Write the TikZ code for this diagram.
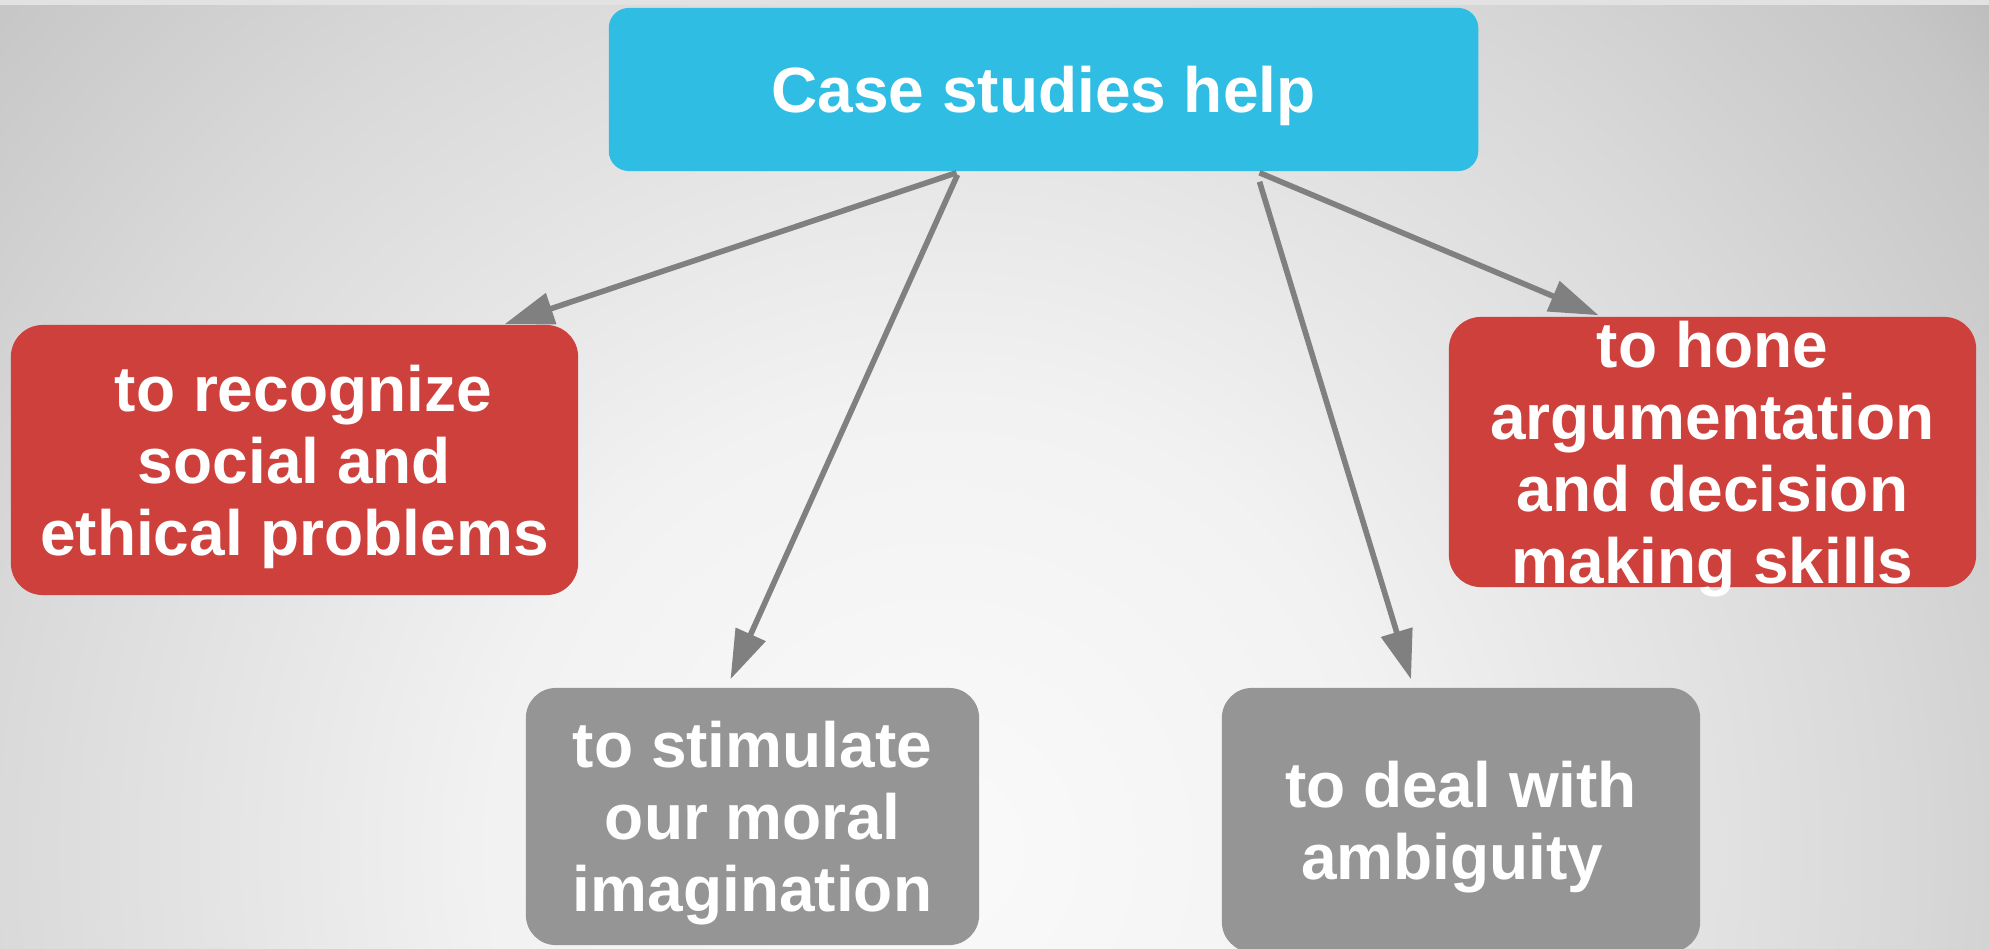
\documentclass[tikz,border=0pt]{standalone}
\usepackage{fontspec}
\setmainfont{Liberation Sans}
\usepackage{tikz}
\usetikzlibrary{arrows.meta, calc}
\definecolor{boxblue}{RGB}{47,189,227}
\definecolor{boxred}{RGB}{205,64,59}
\definecolor{boxgray}{RGB}{149,149,149}
\definecolor{arrowgray}{RGB}{128,128,128}
\definecolor{bgzero}{RGB}{250,250,250}
\definecolor{bgone}{RGB}{242,242,242}
\definecolor{bgtwo}{RGB}{217,217,217}
\definecolor{bgthree}{RGB}{198,198,198}
\definecolor{bgfour}{RGB}{184,184,184}
\definecolor{bgtop}{RGB}{226,226,226}
\pgfdeclareradialshading{backdrop}{\pgfpointorigin}{color(0bp)=(bgzero); color(8bp)=(bgone); color(17bp)=(bgtwo); color(22.7bp)=(bgthree); color(25bp)=(bgfour); color(50bp)=(bgfour)}
\tikzstyle{general} = [rectangle, rounded corners=0.32cm, inner sep=0pt, text depth=0pt, text=white, font=\bfseries\fontsize{18.2}{20.5}\selectfont, align=center]
\tikzstyle{main} = [general, rounded corners=0.2cm, fill=boxblue, minimum width=8.69cm, minimum height=1.63cm]
\tikzstyle{result} = [general, fill=boxred, minimum height=2.7cm]
\tikzstyle{other} = [general, rounded corners=0.3cm, fill=boxgray]
\tikzstyle{arrow} = [line width=1.6pt, color=arrowgray, -{Triangle[length=14pt,width=9pt]}]

\begin{document}
\begin{tikzpicture}[x=0.01cm, y=-0.01cm]
			% background
			\begin{scope}
				\clip (0,0) rectangle (1989,948);
				\shade[shading=backdrop] (940,850) circle (1400);
				\fill[bgtop] (0,0) rectangle (1989,5);
			\end{scope}
			\useasboundingbox (0,0) rectangle (1989,948);
			\node (help) [main] at (1043.5,89.5) {Case studies help};
			\node (recognize) [result, minimum width=5.67cm] at (294.5,460) {\hphantom{\ }to recognize\\social and\\ethical problems};
			\node (hone) [result, minimum width=5.27cm] at (1712.5,452) {to hone\\argumentation\\and decision\\making skills};
			\node (stimulate) [other, minimum width=4.53cm, minimum height=2.57cm] at (752.5,816.5) {to stimulate\\our moral\\imagination};
			\node (deal) [other, minimum width=4.78cm, minimum height=2.64cm] at (1461,820) {to deal with\\ambiguity\hphantom{\ }};
			\draw [arrow] ($(help.south)+(-87,1)$) -- ($(recognize.north)+(210,0)$);
			\draw [arrow] ($(help.south)+(-86,3)$) -- ($(stimulate.north)+(-22,-8)$);
			\draw [arrow] ($(help.south)+(216,10)$) -- ($(deal.north)+(-50,-8)$);
			\draw [arrow] ($(help.south)+(216,1)$) -- ($(hone.north)+(-114,-1)$);
		\end{tikzpicture}
\end{document}
